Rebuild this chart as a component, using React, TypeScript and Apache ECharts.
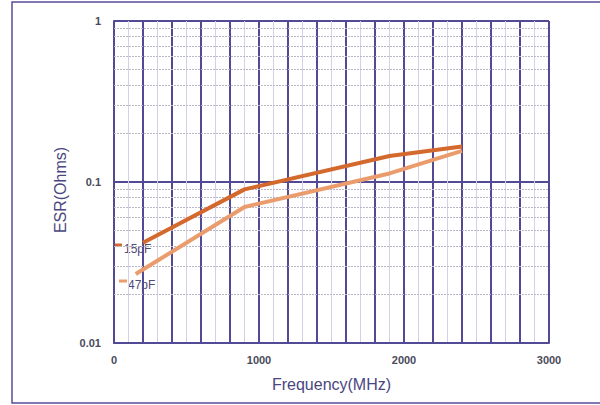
import React, { useEffect, useRef } from "react";
import * as echarts from "echarts";

const seriesNames = ["15pF", "47pF"];
const freq15 = [200, 900, 1900, 2400];
const esr15 = [0.042, 0.09, 0.145, 0.166];
const freq47 = [150, 900, 1900, 2400];
const esr47 = [0.0268, 0.07, 0.113, 0.156];
const xTicks = [0, 1000, 2000, 3000];
const yTicks = [0.01, 0.1, 1];
const minorY = [0.02, 0.03, 0.04, 0.05, 0.06, 0.07, 0.08, 0.09, 0.2, 0.3, 0.4, 0.5, 0.6, 0.7, 0.8, 0.9];

const colors = ["#d4692d", "#eb9c6c"];
const gridColor = "#534a96";
const textColor = "#4a4680";

export default function App() {
  const ref = useRef<HTMLDivElement>(null);
  useEffect(() => {
    if (!ref.current) return;
    const chart = echarts.init(ref.current, null, { renderer: "svg" });
    const GL = 114, GT = 21, GR = 51, GB = 62;
    chart.setOption({
      animation: false,
      backgroundColor: "#ffffff",
      grid: { left: GL, top: GT, right: GR, bottom: GB, containLabel: false },
      xAxis: {
        type: "value",
        min: 0,
        max: 3000,
        interval: 200,
        name: "Frequency(MHz)",
        nameLocation: "middle",
        nameGap: 33,
        nameTextStyle: { color: textColor, fontSize: 16, fontFamily: "Liberation Sans, Arial, sans-serif", fontWeight: 500 },
        axisLine: { show: true, lineStyle: { color: gridColor, width: 2 } },
        axisTick: { show: false },
        axisLabel: {
          color: "#4a4a5a",
          fontSize: 11,
          fontWeight: "bold",
          fontFamily: "Liberation Sans, Arial, sans-serif",
          margin: 11,
          formatter: (v: number) => (xTicks.includes(v) ? String(v) : ""),
        },
        splitLine: { show: true, lineStyle: { color: gridColor, width: 2 } },
        minorTick: { show: false, splitNumber: 2 },
        minorSplitLine: { show: true, lineStyle: { color: "#d3d0e8", width: 1 } },
      },
      yAxis: {
        type: "log",
        logBase: 10,
        min: 0.01,
        max: 1,
        name: "ESR(Ohms)",
        nameLocation: "middle",
        nameGap: 42,
        nameTextStyle: { color: textColor, fontSize: 16, fontFamily: "Liberation Sans, Arial, sans-serif", fontWeight: 500, padding: [0, 16, 0, 0] },
        axisLine: { show: true, lineStyle: { color: gridColor, width: 2 } },
        axisTick: { show: false },
        axisLabel: {
          color: "#4a4a5a",
          fontSize: 11,
          fontWeight: "bold",
          fontFamily: "Liberation Sans, Arial, sans-serif",
          margin: 13,
          formatter: (v: number) => {
            const t = yTicks.find((y) => Math.abs(y - v) / y < 1e-6);
            return t !== undefined ? String(t) : "";
          },
        },
        splitLine: { show: true, lineStyle: { color: gridColor, width: 2 } },
      },
      graphic: [
        {
          type: "rect",
          shape: { x: 12, y: 2, width: 600, height: 401 },
          style: { fill: "none", stroke: "#5a4c9c", lineWidth: 1.5 },
          silent: true,
        },
        { type: "line", shape: { x1: 114, y1: 245, x2: 122, y2: 245 }, style: { stroke: colors[0], lineWidth: 3 } },
        { type: "text", x: 124, y: 249, style: { text: seriesNames[0], fill: "#4f4a78", fontSize: 12, fontFamily: "Liberation Sans, Arial, sans-serif", verticalAlign: "middle" } },
        { type: "line", shape: { x1: 119, y1: 281, x2: 127, y2: 281 }, style: { stroke: colors[1], lineWidth: 3 } },
        { type: "text", x: 128, y: 285, style: { text: seriesNames[1], fill: "#4f4a78", fontSize: 12, fontFamily: "Liberation Sans, Arial, sans-serif", verticalAlign: "middle" } },
      ],
      series: [
        {
          name: seriesNames[0],
          type: "line",
          data: freq15.map((f, i) => [f, esr15[i]]),
          showSymbol: false,
          lineStyle: { color: colors[0], width: 4 },
          z: 5,
          markLine: {
            silent: true,
            symbol: "none",
            label: { show: false },
            lineStyle: { color: "#b9b7c8", width: 1, type: [2, 1] },
            data: minorY.map((v) => ({ yAxis: v })),
            z: 1,
          },
        },
        {
          name: seriesNames[1],
          type: "line",
          data: freq47.map((f, i) => [f, esr47[i]]),
          showSymbol: false,
          lineStyle: { color: colors[1], width: 4 },
          z: 5,
        },
      ],
    });
    return () => chart.dispose();
  }, []);
  return <div ref={ref} style={{ position: "absolute", left: 0, top: 0, width: 600, height: 405 }} />;
}
